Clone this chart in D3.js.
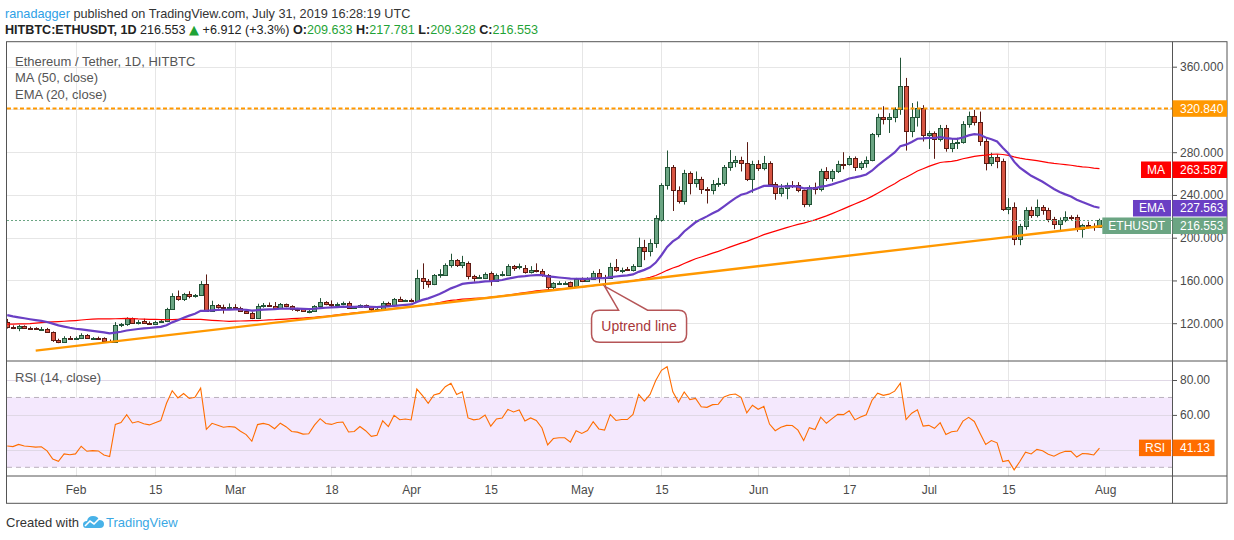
<!DOCTYPE html>
<html>
<head>
<meta charset="utf-8">
<script src="https://cdn.jsdelivr.net/npm/d3@7"></script>
<style>
  body { margin: 0; background: #fff; }
  svg { display: block; font-family: "Liberation Sans", Arial, sans-serif; }
</style>
</head>
<body>
<div id="container"></div>
<script>
// ---- data (daily candles from 2019-01-20 to 2019-07-31) ----
const START = Date.UTC(2019, 0, 20);
const DAY = 864e5;

// closes before the first visible candle (2018-12-01 .. 2019-01-19), only used to warm up MA / EMA / RSI
const priorClose = [118, 116, 108, 110, 102, 91, 92, 93, 94, 90,
  88, 91, 86, 84, 84, 85, 100, 101, 99, 116,
  108, 117, 130, 139, 129, 130, 116, 138, 134, 142,
  133, 140, 155, 148, 154, 155, 157, 151, 150, 150,
  126, 126, 125, 115, 129, 122, 123, 123, 120, 124];

const open = [121.4, 116.3, 115.6, 117.2, 115.8, 115.3, 114.8, 115.0, 111.8, 104.6,
  102.6, 106.2, 105.5, 105.9, 109.4, 106.0, 106.3, 106.1, 103.6, 102.6,
  117.9, 119.1, 124.5, 120.3, 121.6, 120.6, 119.6, 120.8, 121.9, 133.1,
  145.7, 142.5, 147.3, 145.1, 146.2, 156.8, 131.5, 137.2, 135.6, 134.1,
  134.7, 134.3, 131.6, 129.3, 124.6, 136.3, 137.3, 136.4, 134.0, 137.8,
  135.8, 133.0, 132.9, 131.5, 131.7, 136.2, 140.0, 138.4, 137.4, 138.4,
  138.6, 134.6, 135.3, 136.9, 135.3, 133.1, 133.5, 139.3, 137.2, 142.6,
  141.0, 141.3, 141.0, 162.5, 159.9, 156.8, 164.7, 165.3, 174.1, 178.9,
  174.1, 176.6, 163.7, 162.8, 162.5, 167.2, 159.9, 165.3, 165.3, 173.2,
  172.5, 172.0, 167.8, 170.0, 168.7, 164.7, 153.6, 157.4, 157.9, 158.3,
  155.2, 161.5, 159.9, 161.5, 166.8, 163.0, 162.4, 172.5, 169.4, 171.0,
  170.0, 173.2, 190.9, 187.7, 195.3, 216.8, 249.0, 265.8, 244.6, 234.2,
  260.4, 251.6, 254.7, 245.2, 244.6, 250.0, 250.9, 265.8, 271.1, 272.7,
  269.9, 255.3, 268.9, 264.8, 269.9, 250.6, 242.1, 246.8, 249.4, 249.3,
  244.2, 231.6, 247.4, 245.1, 262.6, 255.6, 262.6, 269.1, 268.9, 274.8,
  265.8, 269.7, 272.9, 296.6, 312.8, 310.8, 313.4, 320.1, 341.6, 300.0,
  313.4, 321.1, 296.0, 297.6, 292.8, 303.1, 283.7, 288.4, 289.4, 306.8,
  314.1, 308.4, 290.4, 269.7, 275.8, 271.4, 226.9, 228.8, 198.5, 211.0,
  226.3, 221.5, 228.8, 225.6, 217.4, 212.7, 216.8, 219.3, 219.0, 208.0,
  212.0, 211.4, 209.633];

const high = [124.0, 118.0, 118.5, 118.0, 116.8, 116.2, 116.5, 115.6, 112.3, 105.5,
  107.8, 108.0, 107.5, 110.6, 109.8, 107.0, 107.4, 106.8, 104.7, 121.0,
  120.2, 125.5, 125.3, 122.9, 124.2, 121.6, 122.2, 123.3, 134.4, 148.0,
  150.6, 148.4, 149.9, 147.3, 159.4, 165.6, 141.0, 137.9, 137.4, 138.5,
  137.8, 135.4, 132.5, 131.0, 138.2, 138.9, 139.4, 139.8, 138.9, 138.4,
  136.8, 134.3, 133.8, 133.5, 136.9, 143.5, 140.6, 141.3, 139.4, 140.2,
  140.4, 136.0, 137.6, 137.5, 136.0, 134.5, 140.5, 140.0, 143.6, 144.8,
  142.2, 143.0, 170.0, 176.0, 161.3, 166.0, 170.5, 176.0, 185.0, 180.0,
  183.0, 177.8, 165.3, 165.2, 167.5, 168.4, 166.5, 168.6, 175.2, 174.5,
  175.8, 174.4, 173.4, 176.0, 170.8, 166.0, 158.4, 159.3, 159.1, 159.0,
  162.4, 162.8, 163.0, 169.0, 170.6, 165.2, 176.5, 180.0, 172.0, 172.6,
  175.2, 200.0, 198.0, 198.6, 221.0, 251.0, 281.6, 268.0, 248.0, 263.5,
  262.0, 262.0, 257.0, 247.3, 254.0, 256.0, 268.0, 282.0, 276.5, 275.8,
  289.4, 272.0, 272.5, 276.5, 271.5, 252.0, 250.2, 251.5, 253.0, 252.0,
  245.0, 249.0, 251.5, 264.5, 266.0, 264.0, 272.0, 280.0, 276.5, 276.0,
  271.5, 276.0, 298.0, 316.0, 323.0, 316.5, 322.0, 368.4, 349.5, 326.0,
  327.5, 324.0, 300.0, 299.5, 305.5, 305.5, 293.0, 293.5, 309.0, 318.0,
  319.5, 318.0, 293.0, 279.5, 278.0, 274.0, 237.0, 233.0, 213.0, 228.5,
  229.0, 235.7, 230.5, 228.0, 219.5, 219.0, 224.7, 221.0, 221.5, 213.0,
  215.0, 213.5, 217.781];

const low = [115.0, 114.5, 112.5, 115.0, 114.2, 113.8, 113.9, 111.0, 102.5, 101.3,
  101.8, 104.8, 104.5, 105.2, 105.3, 104.9, 105.2, 102.7, 101.9, 101.5,
  116.4, 117.5, 119.4, 118.8, 119.3, 118.9, 119.0, 120.2, 121.0, 132.4,
  141.0, 140.8, 143.3, 143.9, 145.5, 130.5, 131.0, 133.6, 129.0, 133.1,
  133.8, 130.8, 128.9, 123.8, 124.0, 134.5, 135.5, 132.5, 133.2, 134.9,
  131.6, 130.8, 130.6, 129.3, 131.0, 135.5, 136.8, 135.2, 136.1, 136.8,
  133.4, 133.5, 134.3, 134.6, 131.4, 131.8, 132.9, 136.5, 136.6, 140.0,
  139.9, 139.6, 140.5, 152.0, 153.3, 155.6, 162.5, 164.8, 172.0, 172.6,
  171.5, 161.0, 158.9, 161.5, 161.3, 155.0, 159.0, 163.8, 164.6, 169.0,
  170.4, 166.4, 166.5, 167.5, 163.5, 150.5, 150.8, 155.8, 156.0, 153.2,
  154.5, 159.2, 158.8, 160.4, 157.8, 155.0, 161.6, 168.0, 166.8, 168.8,
  168.4, 172.5, 179.0, 182.5, 190.5, 215.0, 245.0, 225.0, 232.0, 231.0,
  240.5, 247.0, 241.0, 232.0, 240.5, 247.5, 248.5, 262.6, 266.0, 262.0,
  253.0, 242.0, 262.5, 263.0, 248.0, 235.5, 238.5, 236.0, 246.5, 242.5,
  228.5, 229.0, 240.5, 243.3, 253.0, 252.5, 260.5, 264.0, 267.5, 262.5,
  263.5, 265.5, 271.5, 294.0, 306.0, 298.0, 308.0, 315.0, 281.5, 294.0,
  304.0, 290.0, 283.0, 273.8, 290.0, 280.5, 280.0, 283.0, 288.0, 303.0,
  305.0, 286.0, 263.0, 267.0, 265.0, 225.0, 222.0, 193.0, 193.0, 207.5,
  218.5, 219.0, 221.5, 214.5, 208.0, 205.5, 214.5, 216.0, 205.5, 200.0,
  208.5, 206.5, 209.328];

const close = [116.3, 115.6, 117.2, 115.8, 115.3, 114.8, 115.0, 111.8, 104.6, 102.6,
  106.2, 105.5, 105.9, 109.4, 106.0, 106.3, 106.1, 103.6, 102.6, 117.9,
  119.1, 124.5, 120.3, 121.2, 120.1, 119.6, 120.8, 121.9, 133.1, 145.7,
  142.5, 147.3, 145.1, 146.2, 156.8, 131.5, 137.2, 135.6, 134.1, 134.7,
  134.3, 131.6, 129.3, 124.6, 136.3, 137.3, 136.4, 134.0, 137.8, 135.8,
  133.0, 132.6, 131.5, 131.7, 136.2, 140.0, 137.8, 137.4, 138.4, 138.6,
  134.6, 134.8, 136.9, 135.3, 133.1, 133.5, 139.3, 137.2, 142.6, 141.0,
  141.3, 141.0, 162.5, 159.9, 156.8, 164.7, 166.3, 174.1, 178.9, 174.1,
  177.3, 163.7, 162.5, 163.2, 166.3, 159.9, 165.3, 166.0, 173.2, 171.9,
  173.5, 167.8, 170.0, 168.7, 164.7, 153.6, 157.4, 157.9, 157.9, 155.2,
  161.5, 159.9, 161.5, 166.8, 163.0, 162.4, 172.5, 169.4, 170.0, 170.0,
  173.2, 190.9, 187.7, 195.3, 218.4, 249.0, 265.8, 244.6, 234.2, 260.4,
  251.6, 254.7, 245.2, 244.6, 250.0, 250.9, 265.8, 271.1, 272.7, 269.9,
  255.3, 268.9, 264.8, 269.9, 250.6, 242.1, 246.8, 249.4, 249.3, 244.2,
  231.6, 247.4, 245.1, 262.6, 255.6, 262.6, 269.1, 268.9, 274.8, 265.8,
  269.7, 272.9, 296.6, 312.8, 310.8, 313.4, 320.1, 341.6, 300.0, 313.4,
  321.1, 296.0, 297.6, 292.8, 303.1, 283.7, 288.4, 289.4, 306.8, 314.1,
  308.4, 290.4, 269.7, 275.8, 271.4, 226.9, 228.8, 198.5, 211.0, 226.3,
  221.5, 228.8, 225.6, 217.4, 212.7, 216.8, 219.3, 219.0, 208.0, 212.0,
  211.4, 209.641, 216.553];

// axis ticks
const timeTicks = ["2019-02-01", "2019-02-15", "2019-03-01", "2019-03-18", "2019-04-01", "2019-04-15",
  "2019-05-01", "2019-05-15", "2019-06-01", "2019-06-17", "2019-07-01", "2019-07-15", "2019-08-01"];
const timeLabels = ["Feb", "15", "Mar", "18", "Apr", "15", "May", "15", "Jun", "17", "Jul", "15", "Aug"];
const priceTicks = [120, 160, 200, 240, 280, 320, 360];
const rsiTicks = [40, 60, 80];

// drawings
const resistance = 320.84;
const trendDates = ["2019-01-25", "2019-08-02"];
const trendPrices = [94.3, 211.9];
const calloutDate = "2019-05-05";
const lastMA = 263.587;
const lastEMA = 227.563;
const lastRSI = 41.13;

// ---- layout ----
const W = 1234, H = 540;
const plotL = 7, plotR = 1172, frameR = 1227;
const priceTop = 41.7, paneSplit = 361, rsiBot = 476, frameBot = 503.3;
const UP = "#6ba583", UP_DARK = "#225437", DOWN = "#d75442", DOWN_DARK = "#5b1a13";
const GRID = "#e6e6e6", AXIS_TXT = "#4a4a4a", FRAME = "#555";

const svg = d3.select("#container").append("svg")
  .attr("width", W).attr("height", H);

const x = d3.scaleUtc()
  .domain([new Date(Date.UTC(2019, 0, 19, 23)), new Date(Date.UTC(2019, 7, 12, 18))])
  .range([plotL, plotR]);
const y = d3.scaleLinear().domain([200, 360]).range([237.7, 66.7]);
const yR = d3.scaleLinear().domain([30, 80]).range([467.3, 380]);

const dates = close.map((_, i) => new Date(START + i * DAY));
const bars = close.map((c, i) => ({ date: dates[i], o: open[i], h: high[i], l: low[i], c: c }));

// ---- indicators ----
const allClose = priorClose.concat(close);
const n0 = priorClose.length;
const ma = close.map((_, i) => d3.mean(allClose.slice(n0 + i - 49, n0 + i + 1)));

const emaAll = [];
let e = d3.mean(allClose.slice(0, 20));
for (let i = 0; i < allClose.length; i++) {
  if (i >= 20) e = e + (allClose[i] - e) * 2 / 21;
  emaAll.push(e);
}
const ema = emaAll.slice(n0);

const rsiAll = [];
let avgG = 0, avgL = 0;
for (let i = 1; i < allClose.length; i++) {
  const ch = allClose[i] - allClose[i - 1];
  const g = Math.max(ch, 0), l = Math.max(-ch, 0);
  if (i <= 14) {
    avgG += g / 14; avgL += l / 14;
  } else {
    avgG = (avgG * 13 + g) / 14; avgL = (avgL * 13 + l) / 14;
  }
  rsiAll[i] = avgL === 0 ? 100 : 100 - 100 / (1 + avgG / avgL);
}
const rsi = rsiAll.slice(n0);

// ---- clip paths ----
const defs = svg.append("defs");
defs.append("clipPath").attr("id", "clipPrice").append("rect")
  .attr("x", plotL).attr("y", priceTop).attr("width", plotR - plotL).attr("height", paneSplit - priceTop);
defs.append("clipPath").attr("id", "clipRsi").append("rect")
  .attr("x", plotL).attr("y", paneSplit).attr("width", plotR - plotL).attr("height", rsiBot - paneSplit);

// ---- header ----
svg.append("text").attr("x", 5).attr("y", 18).attr("font-size", 12.7).attr("fill", "#333")
  .call(t => {
    t.append("tspan").attr("fill", "#2e9fe6").text("ranadagger");
    t.append("tspan").text(" published on TradingView.com, July 31, 2019 16:28:19 UTC");
  });

const last = close.length - 1;
const chg = close[last] - close[last - 1];
const fmt3 = d3.format(".3f");
const GREEN = "#1fa336";
svg.append("text").attr("x", 5).attr("y", 34).attr("font-size", 12.6).attr("fill", "#222")
  .call(t => {
    t.append("tspan").attr("font-weight", "bold").text("HITBTC:ETHUSDT, 1D");
    t.append("tspan").text("  " + fmt3(close[last]) + " ");
    t.append("tspan").attr("fill", GREEN).attr("font-family", "DejaVu Sans").attr("font-size", 13).text("▲");
    t.append("tspan").text(" +" + fmt3(chg) + " (+" + d3.format(".1f")(chg / close[last - 1] * 100) + "%) ");
    [["O:", open[last]], ["H:", high[last]], ["L:", low[last]], ["C:", close[last]]].forEach(([k, v], i) => {
      t.append("tspan").attr("font-weight", "bold").text((i ? " " : "") + k);
      t.append("tspan").attr("fill", GREEN).text(fmt3(v));
    });
  });

// ---- grid ----
const grid = svg.append("g");
timeTicks.forEach(d => {
  const gx = Math.round(x(new Date(d))) + 0.5;
  grid.append("line").attr("x1", gx).attr("x2", gx).attr("y1", priceTop).attr("y2", rsiBot)
    .attr("stroke", GRID);
});
priceTicks.forEach(p => {
  const gy = Math.round(y(p)) + 0.5;
  grid.append("line").attr("x1", plotL).attr("x2", plotR).attr("y1", gy).attr("y2", gy).attr("stroke", GRID);
});

// RSI band + grid
const rsiG = svg.append("g").attr("clip-path", "url(#clipRsi)");
rsiG.append("rect").attr("x", plotL).attr("width", plotR - plotL)
  .attr("y", yR(70)).attr("height", yR(30) - yR(70)).attr("fill", "#f4e8fd");
rsiTicks.forEach(v => {
  const gy = Math.round(yR(v)) + 0.5;
  rsiG.append("line").attr("x1", plotL).attr("x2", plotR).attr("y1", gy).attr("y2", gy).attr("stroke", "#e0d8e6");
});
[70, 30].forEach(v => {
  rsiG.append("line").attr("x1", plotL).attr("x2", plotR).attr("y1", yR(v)).attr("y2", yR(v))
    .attr("stroke", "#b9b0bd").attr("stroke-dasharray", "5,4");
});
rsiG.append("path").datum(rsi.map((v, i) => ({ date: dates[i], v })))
  .attr("fill", "none").attr("stroke", "#ff6d00").attr("stroke-width", 1.1)
  .attr("d", d3.line().x(d => x(d.date)).y(d => yR(d.v)));

// ---- price pane ----
const pg = svg.append("g").attr("clip-path", "url(#clipPrice)");

// candles
const cx = d => Math.round(x(d.date));
pg.selectAll("line.wick").data(bars).join("line").attr("class", "wick")
  .attr("x1", d => cx(d) + 0.5).attr("x2", d => cx(d) + 0.5)
  .attr("y1", d => y(d.h)).attr("y2", d => y(d.l))
  .attr("stroke", d => d.c >= d.o ? UP_DARK : DOWN_DARK);
pg.selectAll("rect.body").data(bars).join("rect").attr("class", "body")
  .attr("x", d => cx(d) - 1.5).attr("width", 4)
  .attr("y", d => Math.round(y(Math.max(d.o, d.c))) + 0.5)
  .attr("height", d => Math.max(1, Math.round(y(Math.min(d.o, d.c))) - Math.round(y(Math.max(d.o, d.c)))))
  .attr("fill", d => d.c >= d.o ? UP : DOWN)
  .attr("stroke", d => d.c >= d.o ? UP_DARK : DOWN_DARK);

// MA / EMA
const line = d3.line().x(d => x(d.date)).y(d => y(d.v));
pg.append("path").datum(ma.map((v, i) => ({ date: dates[i], v })))
  .attr("fill", "none").attr("stroke", "#ff0000").attr("stroke-width", 1.2).attr("d", line);
pg.append("path").datum(ema.map((v, i) => ({ date: dates[i], v })))
  .attr("fill", "none").attr("stroke", "#6a3fc4").attr("stroke-width", 2.2).attr("d", line);

// last price dotted line
pg.append("line").attr("x1", plotL).attr("x2", plotR)
  .attr("y1", Math.round(y(close[last])) + 0.5).attr("y2", Math.round(y(close[last])) + 0.5)
  .attr("stroke", UP).attr("stroke-dasharray", "2,2");

// resistance
pg.append("line").attr("x1", plotL).attr("x2", plotR).attr("y1", y(resistance)).attr("y2", y(resistance))
  .attr("stroke", "#ff9800").attr("stroke-width", 2).attr("stroke-dasharray", "4,2.5");

// uptrend line
const trend = trendDates.map((d, i) => ({ date: new Date(d), v: trendPrices[i] }));
pg.append("path").datum(trend).attr("fill", "none").attr("stroke", "#ff9800")
  .attr("stroke-width", 2.4).attr("d", line);

// callout
const tDate = new Date(calloutDate);
const tFrac = (tDate - trend[0].date) / (trend[1].date - trend[0].date);
const tipX = x(tDate), tipY = y(trend[0].v + tFrac * (trend[1].v - trend[0].v)) + 2;
const bx = tipX - 13, by = tipY + 24, bw = 95, bh = 32, r = 8;
const ax1 = tipX + 14, ax2 = tipX + 43;
const bubble = d3.path();
bubble.moveTo(bx + r, by);
bubble.lineTo(ax1, by);
bubble.lineTo(tipX, tipY);
bubble.lineTo(ax2, by);
bubble.lineTo(bx + bw - r, by);
bubble.quadraticCurveTo(bx + bw, by, bx + bw, by + r);
bubble.lineTo(bx + bw, by + bh - r);
bubble.quadraticCurveTo(bx + bw, by + bh, bx + bw - r, by + bh);
bubble.lineTo(bx + r, by + bh);
bubble.quadraticCurveTo(bx, by + bh, bx, by + bh - r);
bubble.lineTo(bx, by + r);
bubble.quadraticCurveTo(bx, by, bx + r, by);
bubble.closePath();
svg.append("path").attr("d", bubble.toString()).attr("fill", "#fff")
  .attr("stroke", "#a8373a").attr("stroke-width", 1.5).attr("stroke-opacity", 0.85);
svg.append("text").attr("x", bx + bw / 2).attr("y", by + bh / 2 + 5).attr("text-anchor", "middle")
  .attr("font-size", 14).attr("fill", "#a8373a").text("Uptrend line");

// legend texts
const legend = svg.append("g").attr("font-size", 13).attr("fill", "#555");
legend.append("text").attr("x", 15).attr("y", 65.5).text("Ethereum / Tether, 1D, HITBTC");
legend.append("text").attr("x", 15).attr("y", 82).text("MA (50, close)");
legend.append("text").attr("x", 15).attr("y", 99).text("EMA (20, close)");
legend.append("text").attr("x", 15).attr("y", 381.5).text("RSI (14, close)");

// ---- axes ----
const axPrice = svg.append("g").attr("transform", `translate(${plotR},0)`)
  .call(d3.axisRight(y).tickValues(priceTicks).tickFormat(fmt3).tickSize(5).tickPadding(3));
const axRsi = svg.append("g").attr("transform", `translate(${plotR},0)`)
  .call(d3.axisRight(yR).tickValues(rsiTicks).tickFormat(d3.format(".2f")).tickSize(5).tickPadding(3));
const axTime = svg.append("g").attr("transform", `translate(0,${rsiBot})`)
  .call(d3.axisBottom(x).tickValues(timeTicks.map(d => new Date(d)))
    .tickFormat((d, i) => timeLabels[i]).tickSize(0).tickPadding(9));
[axPrice, axRsi, axTime].forEach(a => {
  a.select(".domain").remove();
  a.selectAll("text").attr("fill", AXIS_TXT).attr("font-size", 12)
    .attr("font-family", "Liberation Sans, Arial, sans-serif");
  a.selectAll("line").attr("stroke", FRAME);
});

// ---- frame ----
const frame = svg.append("g").attr("fill", "none").attr("stroke", FRAME);
frame.append("rect").attr("x", plotL - 0.5).attr("y", priceTop).attr("width", frameR - plotL + 0.5)
  .attr("height", frameBot - priceTop);
frame.append("line").attr("x1", plotL).attr("x2", frameR).attr("y1", paneSplit).attr("y2", paneSplit);
frame.append("line").attr("x1", plotL).attr("x2", frameR).attr("y1", rsiBot).attr("y2", rsiBot);
frame.append("line").attr("x1", plotR + 0.5).attr("x2", plotR + 0.5).attr("y1", priceTop).attr("y2", frameBot);

// ---- axis value labels ----
function axisLabel(name, value, yv, color, prevBottom) {
  const hBox = 16.5;
  let top = Math.max(yv - hBox / 2, prevBottom + 1);
  const g = svg.append("g");
  const vt = g.append("text").attr("x", plotR + 8).attr("y", top + 12.5)
    .attr("font-size", 12).attr("fill", "#fff").text(value);
  const vw = vt.node().getComputedTextLength();
  g.insert("rect", "text").attr("x", plotR + 0.5).attr("y", top).attr("width", Math.min(vw + 12, frameR - plotR - 0.5))
    .attr("height", hBox).attr("fill", color);
  if (name) {
    const nt = g.append("text").attr("x", plotR - 7).attr("y", top + 12.5).attr("text-anchor", "end")
      .attr("font-size", 12).attr("fill", "#fff").text(name);
    const nw = nt.node().getComputedTextLength();
    g.insert("rect", "text").attr("x", plotR - nw - 13).attr("y", top).attr("width", nw + 12)
      .attr("height", hBox).attr("fill", color);
  }
  return top + hBox;
}
axisLabel(null, fmt3(resistance), y(resistance), "#ff9800", 0);
let bottom = axisLabel("MA", fmt3(lastMA), y(lastMA), "#ff0000", 0);
bottom = axisLabel("EMA", fmt3(lastEMA), y(lastEMA), "#6a3fc4", bottom);
axisLabel("ETHUSDT", fmt3(close[last]), y(close[last]), UP, bottom);
axisLabel("RSI", d3.format(".2f")(lastRSI), yR(lastRSI), "#ff6d00", 0);

// ---- footer ----
svg.append("text").attr("x", 6).attr("y", 527).attr("font-size", 13).attr("fill", "#333").text("Created with");
const logo = svg.append("g").attr("transform", "translate(83,513)");
logo.append("path")
  .attr("d", "M3,15 Q0,15 0,11.5 Q0,8 4,8 Q5,3 10,3 Q15,3 16,7 Q21,7 21,11 Q21,15 17,15 Z")
  .attr("fill", "#48b2e8");
logo.append("path").attr("d", "M2,13 L7,8 L11,11 L18,4").attr("fill", "none")
  .attr("stroke", "#fff").attr("stroke-width", 1.6);
svg.append("text").attr("x", 106).attr("y", 527).attr("font-size", 13).attr("fill", "#3aa8e4").text("TradingView");
</script>
</body>
</html>
